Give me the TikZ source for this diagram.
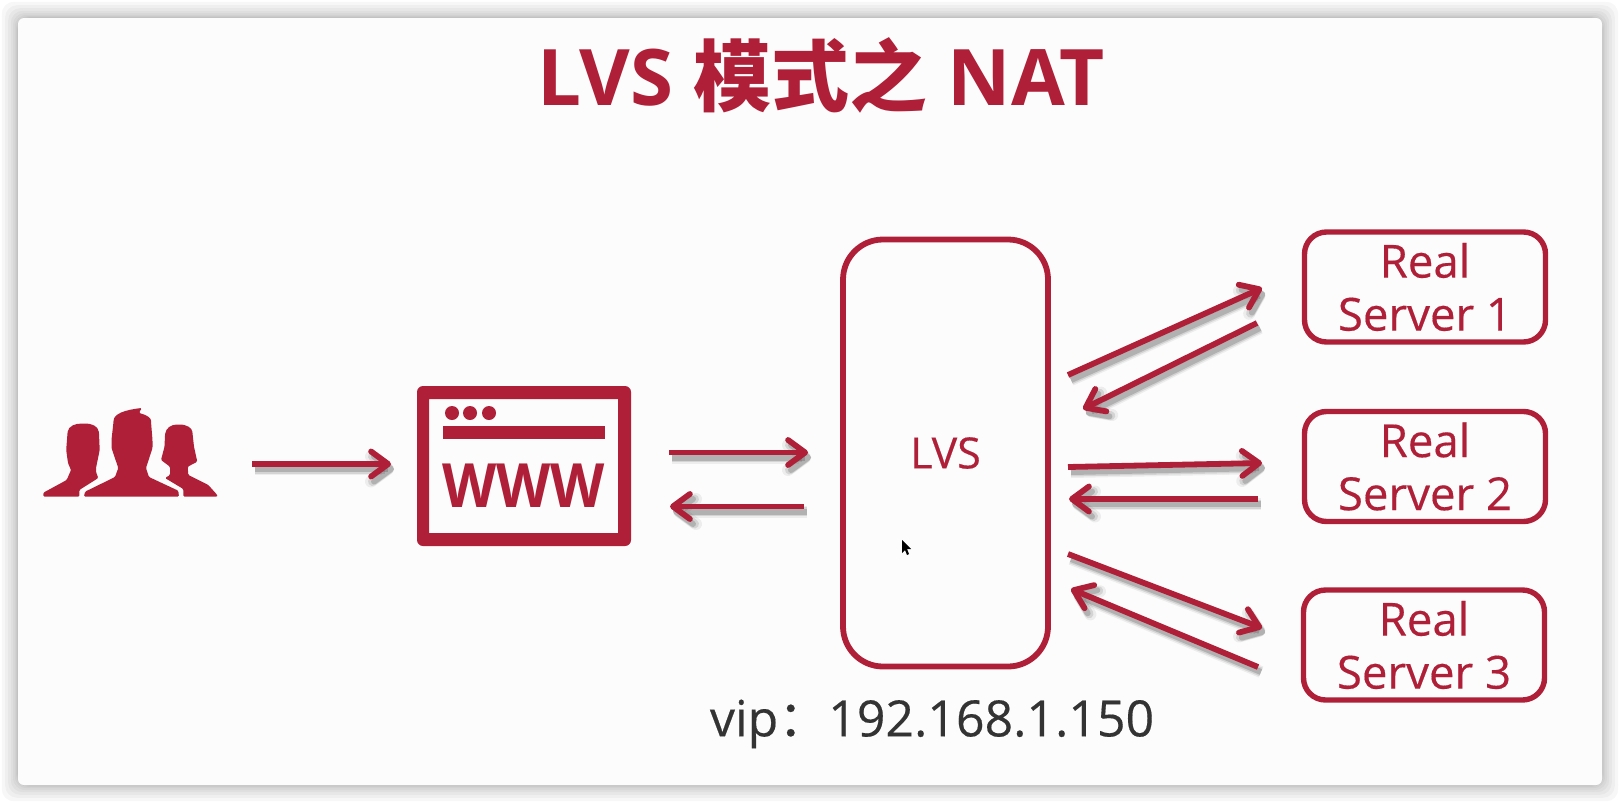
\documentclass[tikz,border=0pt]{standalone}
\usepackage{fontspec}
\setmainfont{Open Sans}
\newfontfamily\labelfont[FakeBold=0.35]{Open Sans}
\newfontfamily\cjkfont{Noto Sans CJK SC}
\newfontfamily\colonfont[FakeBold=0.35]{Noto Sans CJK SC}
\usetikzlibrary{arrows.meta}
\definecolor{lvsred}{HTML}{AF1F37}
\definecolor{lvsgrey}{HTML}{333333}
\begin{document}
\begin{tikzpicture}
    [
    x=0.5pt,y=-0.5pt,
    hub/.style={draw=lvsred,line width=2.9pt,rounded corners=20pt,minimum width=102.5pt,minimum height=213.5pt,inner sep=0pt,text=lvsred,font=\labelfont\fontsize{21.5}{26}\selectfont},
    server/.style={draw=lvsred,line width=2.7pt,rounded corners=11pt,minimum width=120.5pt,minimum height=55pt,inner sep=0pt,align=center,text=lvsred,font=\labelfont\fontsize{22.8}{26.5}\selectfont},
    link/.style={draw=lvsred,line width=2.9pt,line cap=butt,-{Straight Barb[length=8.5pt,width=12.5pt,round]},
        preaction={draw=black,opacity=0.06,line width=6pt,transform canvas={shift={(1.5pt,-2.5pt)}}},
        preaction={draw=black,opacity=0.10,line width=4.5pt,transform canvas={shift={(1.5pt,-2.5pt)}}},
        preaction={draw=black,opacity=0.16,line width=3pt,transform canvas={shift={(1.5pt,-2.5pt)}}}},
    person/.style={fill=lvsred,rounded corners=0.6pt}
    ]
    \useasboundingbox [fill=white] (0,0) rectangle (1620,803);
    \foreach \r in {1,...,9}
        \fill [black,opacity=0.03,rounded corners=6pt] (18-\r*\r/5,18-\r*\r/5) rectangle (1602+\r*\r/5,785+\r*\r/5);
    \fill [fill=white!99!black,rounded corners=3pt] (18,18) rectangle (1602,785);
    \node (title) at (821,75) [text=lvsred,font=\bfseries\fontsize{39}{46}\selectfont] {LVS {\cjkfont 模式之} NAT};
    \fill [person] (43.3,496.7) -- (43.3,492.7) -- (66.7,480) -- (71,470) -- (68,463) -- (66.2,450) -- (67.5,433)
        .. controls (68.5,426) and (75,423.5) .. (83.3,423.5) .. controls (92,423.5) and (98,426) .. (99,433)
        -- (99.7,450) -- (96,468) -- (96,472) -- (98.3,478) -- (79.3,490) -- (79.3,496.7) -- cycle;
    \fill [person] (84,496.7) -- (85,491.7) -- (115,477) -- (118.3,468) -- (111.5,448) -- (111.5,440) -- (113.5,421.7)
        .. controls (114,414) and (124,410) .. (141.7,408) -- (139,413) .. controls (147,415) and (151,418) .. (151,421.7)
        -- (152.5,440) -- (152.5,448) -- (146,468) -- (149,477) -- (178.3,490.7) -- (179,496.7) -- cycle;
    \fill [person] (183.3,496.7) -- (183.3,489) -- (165,478) -- (170,475) -- (170,466.7) -- (161,460) -- (164.5,446.7) -- (165,435)
        .. controls (166,428) and (171,424.5) .. (178.3,424.5) .. controls (187,424.5) and (192,428) .. (192.5,433)
        -- (194,446.7) -- (197.3,461.7) -- (187.7,466.7) -- (188.3,475) -- (208.3,485) -- (217.3,495) -- (217.3,496.7) -- cycle;
    \fill [lvsred,rounded corners=3pt,even odd rule] (417,386) rectangle (631,546) [sharp corners] (429,399) rectangle (618,533);
    \fill [lvsred] (443,426) rectangle (604.5,439);
    \foreach \x in {452,470,489}
        \fill [lvsred] (\x,413) circle [radius=7];
    \node (www) at (523.5,486) [inner sep=0pt,text=lvsred,font=\bfseries\fontsize{30.5}{32}\selectfont] {\scalebox{0.92}[1]{WWW}};
    \node (lvs) at (945.5,453) [hub] {LVS};
    \node (rs1) at (1425,287) [server] {Real\\Server 1};
    \node (rs2) at (1425,466.5) [server] {Real\\Server 2};
    \node (rs3) at (1424,645) [server] {Real\\Server 3};
    \node (vip) at (932,724) [text=lvsgrey,font=\labelfont\fontsize{25}{30}\selectfont] {vip{\colonfont ：}192.168.1.150};
    \fill [black] (902,540) -- (902,553) -- (905,550) -- (907,555) -- (909,554) -- (907,549) -- (911,549) -- cycle;
    \coordinate (u1) at (252,464);
    \coordinate (u2) at (391,464);
    \coordinate (w1) at (669,452.5);
    \coordinate (w2) at (808,452.5);
    \coordinate (w3) at (804,506.5);
    \coordinate (w4) at (670,506.5);
    \coordinate (a1) at (1068,375);
    \coordinate (a2) at (1262,288);
    \coordinate (a3) at (1257,323);
    \coordinate (a4) at (1083,409);
    \coordinate (b1) at (1068,467);
    \coordinate (b2) at (1262,463);
    \coordinate (b3) at (1258,499);
    \coordinate (b4) at (1069,499);
    \coordinate (c1) at (1068,554);
    \coordinate (c2) at (1262,628);
    \coordinate (c3) at (1258,667);
    \coordinate (c4) at (1071,589);
    \draw [link] (u1) to (u2);
    \draw [link] (w1) to (w2);
    \draw [link] (w3) to (w4);
    \draw [link] (a1) to (a2);
    \draw [link] (a3) to (a4);
    \draw [link] (b1) to (b2);
    \draw [link] (b3) to (b4);
    \draw [link] (c1) to (c2);
    \draw [link] (c3) to (c4);
  \end{tikzpicture}
\end{document}
